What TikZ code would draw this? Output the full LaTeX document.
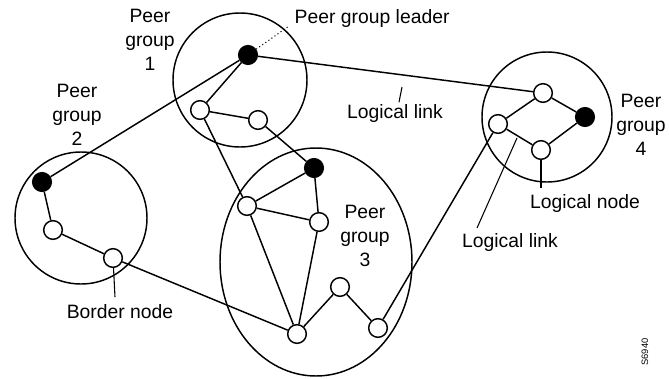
\documentclass[tikz,border=0pt]{standalone}
\usepackage{fontspec}
\setmainfont{Liberation Sans}

\tikzset{every picture/.style={line width=1.1pt}}
\tikzset{
  pnode/.style={circle,draw,fill=white,inner sep=0pt,minimum size=14pt},
  pgl/.style={pnode,fill=black},
  lbl/.style={inner sep=0.75pt,align=center,font=\fontsize{14.5}{18}\selectfont},
  pointer/.style={line width=0.8pt}
}

\begin{document}
\begin{tikzpicture}[x=0.75pt,y=0.75pt,yscale=-1,xscale=1]
\path[use as bounding box] (0,0) rectangle (669,379);

%Shape: Circle [peer group 1]
\draw (240,80) circle [radius=67];
%Shape: Circle [peer group 2]
\draw (81,218) circle [radius=66];
%Shape: Ellipse [peer group 3]
\draw (316,262) ellipse [x radius=96, y radius=114];
%Shape: Circle [peer group 4]
\draw (547,117) circle [radius=65];

% Peer group 1
\node [pgl] (pgl1) at (248,55) {};
\node [pnode] (n1a) at (200,110) {};
\node [pnode] (n1b) at (258,120) {};
% Peer group 2
\node [pgl] (pgl2) at (42,182) {};
\node [pnode] (n2a) at (53,230) {};
\node [pnode] (bn2) at (113,258) {};
% Peer group 3
\node [pgl] (pgl3) at (314,168) {};
\node [pnode] (n3a) at (247,206) {};
\node [pnode] (n3b) at (319,222) {};
\node [pnode] (n3c) at (297,334) {};
\node [pnode] (n3d) at (340,287) {};
\node [pnode] (n3e) at (378,328) {};
% Peer group 4
\node [pgl] (pgl4) at (585,117) {};
\node [pnode] (n4a) at (498,124) {};
\node [pnode] (n4b) at (543,93) {};
\node [pnode] (n4c) at (541,150) {};

% Links
\draw (pgl2) -- (pgl1);
\draw (pgl2) -- (n2a) -- (bn2) -- (n3c);
\draw (pgl1) -- (n1a) -- (n1b) -- (pgl3);
\draw (pgl1) -- (n4b);
\draw (n1a) -- (n3a);
\draw (n3a) -- (pgl3) -- (n3b) -- (n3a) -- (n3c) -- (n3b);
\draw (n3c) -- (n3d) -- (n3e) -- (n4a);
\draw (n4a) -- (n4b) -- (pgl4) -- (n4c) -- (n4a);

% Text Node
\node [lbl] (pg1) at (150,40) {Peer\\group\\1};
% Text Node
\node [lbl] (pg2) at (77,115) {Peer\\group\\2};
% Text Node
\node [lbl] (pg3) at (365,236) {Peer\\group\\3};
% Text Node
\node [lbl] (pg4) at (641,125) {Peer\\group\\4};
% Text Node
\node [lbl,anchor=west] (ldr) at (293,18) {Peer group leader};
% Text Node
\node [lbl] (lk1) at (395,113) {Logical link};
% Text Node
\node [lbl] (lk2) at (510,242) {Logical link};
% Text Node
\node [lbl] (lnd) at (585,203) {Logical node};
% Text Node
\node [lbl] (bnd) at (120,312) {Border node};
% Text Node
\node [inner sep=0.75pt,rotate=90,font=\fontsize{7}{8}\selectfont] (fig) at (645,352) {S6940};

% Pointers
\coordinate (ldrp) at (289,26);
\draw [pointer,dotted] (pgl1) -- (ldrp);
\coordinate (lk1p) at (402,87);
\draw [pointer] ([xshift=3]lk1.north) -- (lk1p);
\coordinate (lk2a) at (477,228);
\coordinate (lk2b) at (517,138);
\draw [pointer] (lk2a) -- (lk2b);
\coordinate (lndp) at (541,188);
\draw [pointer] (n4c) -- (lndp);
\coordinate (bndp) at (115,297);
\draw [pointer] (bn2) -- (bndp);

\end{tikzpicture}
\end{document}
